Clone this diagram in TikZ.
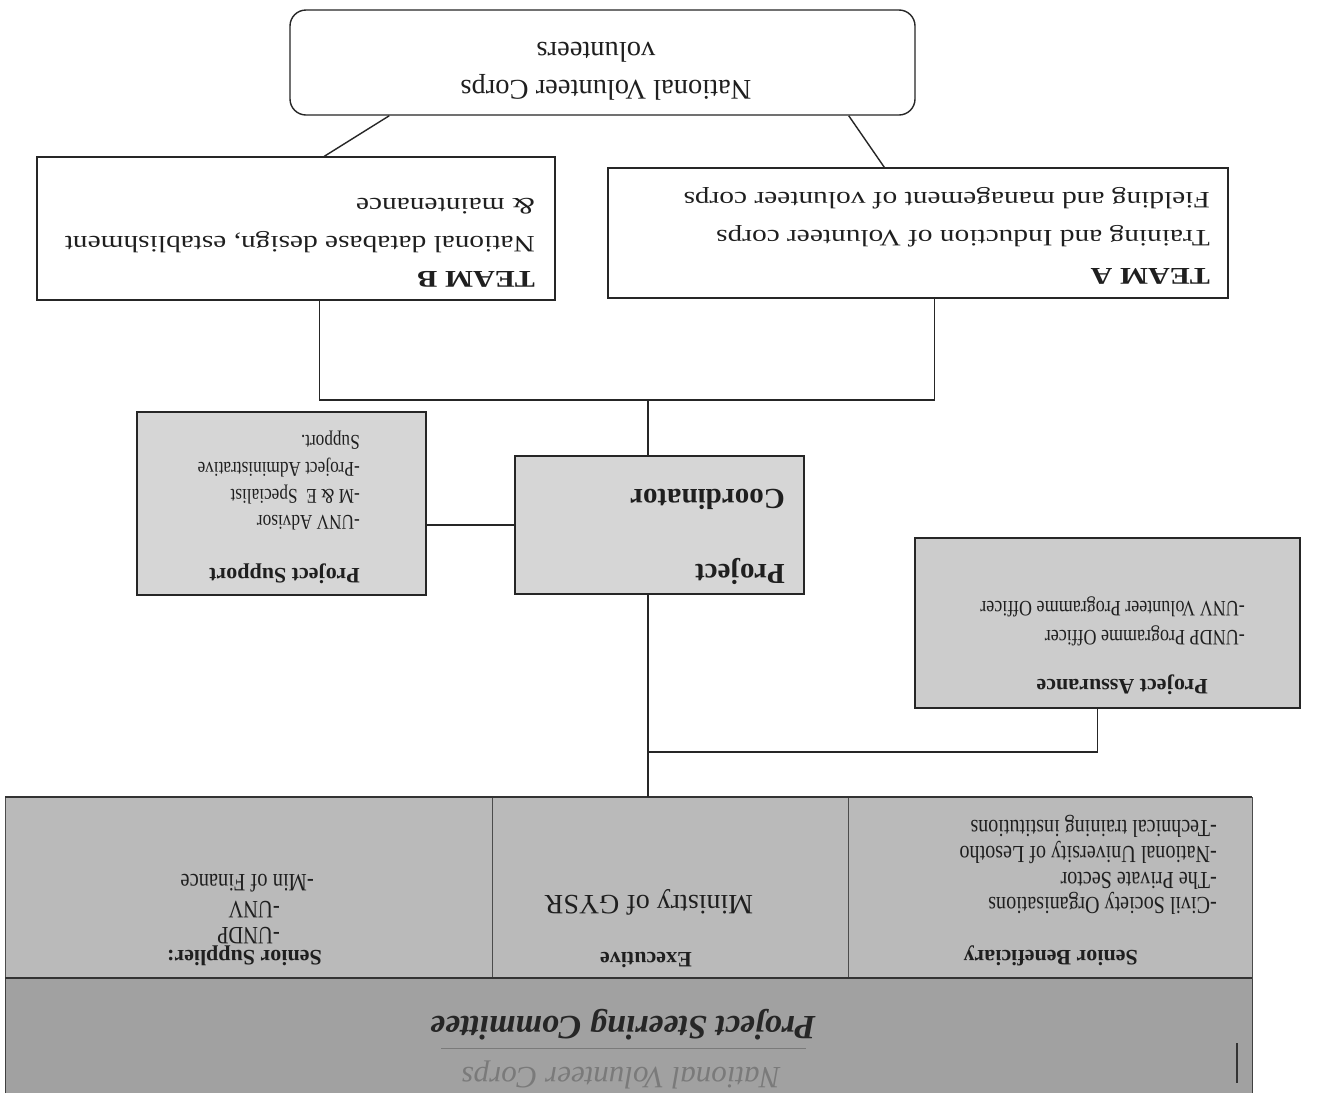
\documentclass[tikz,border=0pt]{standalone}
\usepackage{fontspec}
\setmainfont{Liberation Serif}
\newfontfamily\wideserif{Liberation Serif}[FakeStretch=1.25]
\newfontfamily\condserif{Liberation Serif}[FakeStretch=0.82]
\newcommand{\fsz}[1]{\fontsize{#1}{#1}\selectfont}
\begin{document}
\begin{tikzpicture}[x=1pt,y=-1pt,
  box/.style={draw=black!85, line width=1.4pt, inner sep=0pt},
  gbox/.style={box, fill=black!16},
  cellbox/.style={draw=black!70, line width=1pt, inner sep=0pt, fill=black!27},
  txt/.style={rotate=180, inner sep=0pt, text=black!88},
  rtxt/.style={txt, anchor=mid west},
  ctxt/.style={txt, anchor=mid},
  conn/.style={draw=black!85, line width=1.4pt}]
\useasboundingbox (0,0) rectangle (1330,1093);
\fill[white] (0,0) rectangle (1330,1093);

% ---------- boxes ----------
\node[box, rounded corners=16pt, minimum width=625pt, minimum height=105pt] (top) at (602.5,62.5) {};
\node[box, minimum width=518pt, minimum height=143pt] (teamB) at (296,228.5) {};
\node[box, minimum width=620pt, minimum height=130pt] (teamA) at (918,233) {};
\node[gbox, minimum width=289pt, minimum height=138pt] (coord) at (659.5,525) {};
\node[gbox, minimum width=289pt, minimum height=183pt] (support) at (281.5,503.5) {};
\node[gbox, fill=black!20, minimum width=385pt, minimum height=170pt] (assur) at (1107.5,623) {};

% committee
\fill[black!37] (5,978) rectangle (1252,1093);
\draw[black!75, line width=1pt] (5,1093) -- (5,978) -- (1252,978) -- (1252,1093);
\node[cellbox, minimum width=487pt, minimum height=181pt] (cellL) at (248.5,887.5) {};
\node[cellbox, minimum width=356pt, minimum height=181pt] (cellM) at (670,887.5) {};
\node[cellbox, minimum width=404pt, minimum height=181pt] (cellR) at (1050,887.5) {};
\draw[black!80, line width=2pt] (5,978) -- (1252,978);
\draw[black!80, line width=1.6pt] (5,797) -- (1252,797);

% ---------- connectors ----------
\coordinate (j1) at (648,400);
\coordinate (j2) at (648,752);
\draw[conn] ([xshift=100pt]top.south west) -- ([xshift=288pt]teamB.north west);
\draw[conn] ([xshift=-67pt]top.south east) -- ([xshift=277pt]teamA.north west);
\draw[conn] ([xshift=283pt]teamB.south west) |- (j1) -| ([xshift=327pt]teamA.south west);
\draw[conn] (j1) -- (j1 |- coord.north);
\draw[conn] (coord.west) -- (coord.west -| support.east);
\draw[conn] (j1 |- coord.south) -- (j1 |- cellM.north);
\draw[conn] (j2) -| ([xshift=-10pt]assur.south);

% ---------- texts ----------
\node[ctxt, font=\fsz{28.5}] (t1) at (606,83) {National Volunteer Corps};
\node[ctxt, font=\fsz{28.5}] (t2) at (596,45) {volunteers};

\node[rtxt, font=\wideserif\bfseries\fsz{24}] (tb1) at (535,274) {TEAM B};
\node[rtxt, font=\wideserif\fsz{23.5}] (tb2) at (535,239) {National database design, establishment};
\node[rtxt, font=\wideserif\fsz{23.5}] (tb3) at (535,201) {\& maintenance};

\node[rtxt, font=\wideserif\bfseries\fsz{24}] (ta1) at (1210,271) {TEAM A};
\node[rtxt, font=\wideserif\fsz{23.5}] (ta2) at (1210,233) {Training and Induction of Volunteer corps};
\node[rtxt, font=\wideserif\fsz{23.5}] (ta3) at (1210,195) {Fielding and management of volunteer corps};

\node[rtxt, font=\bfseries\fsz{29}] (pc1) at (785,567) {Project};
\node[rtxt, font=\bfseries\fsz{29}] (pc2) at (785,492) {Coordinator};

\node[rtxt, font=\bfseries\fsz{22}] (ps1) at (360,571) {Project Support};
\node[rtxt, font=\condserif\fsz{21}] (ps2) at (360,518) {-UNV Advisor};
\node[rtxt, font=\condserif\fsz{21}] (ps3) at (360,492) {-M \& E~~Specialist};
\node[rtxt, font=\condserif\fsz{21}] (ps4) at (360,465) {-Project Administrative};
\node[rtxt, font=\condserif\fsz{21}] (ps5) at (360,438) {Support.};

\node[rtxt, font=\bfseries\fsz{22}] (pa1) at (1208,682) {Project Assurance};
\node[rtxt, font=\condserif\fsz{22}] (pa2) at (1245,633) {-UNDP Programme Officer};
\node[rtxt, font=\condserif\fsz{22}] (pa3) at (1245,604) {-UNV Volunteer Programme Officer};

\node[rtxt, font=\bfseries\fsz{22}] (sl1) at (322,953) {Senior Supplier:};
\node[rtxt, font=\condserif\fsz{25}] (sl2) at (280,930) {-UNDP};
\node[rtxt, font=\condserif\fsz{25}] (sl3) at (280,904) {-UNV};
\node[rtxt, font=\condserif\fsz{25}] (sl4) at (314,877) {-Min of Finance};

\node[ctxt, font=\bfseries\fsz{22}] (ex1) at (646,955) {Executive};
\node[ctxt, font=\fsz{28}] (ex2) at (649,898) {Ministry of GYSR};

\node[rtxt, font=\bfseries\fsz{22}] (sb1) at (1138,953) {Senior Beneficiary};
\node[rtxt, font=\condserif\fsz{24.5}] (sb2) at (1217,900) {-Civil Society Organisations};
\node[rtxt, font=\condserif\fsz{24.5}] (sb3) at (1217,875) {-The Private Sector};
\node[rtxt, font=\condserif\fsz{24.5}] (sb4) at (1217,849) {-National University of Lesotho};
\node[rtxt, font=\condserif\fsz{24.5}] (sb5) at (1217,823) {-Technical training institutions};

\node[ctxt, font=\bfseries\itshape\fsz{34}, text=black!85] (psc) at (623,1019) {Project Steering Committee};
\begin{scope}
\clip (5,1049) rectangle (1252,1093);
\node[ctxt, font=\itshape\fsz{31}, text=black!52] (nvc) at (621,1070) {National Volunteer Corps};
\end{scope}
\draw[black!52, line width=1pt] (441,1048) -- (806,1048);
\draw[black!80, line width=1.2pt] (1237,1043) -- (1237,1083);
\end{tikzpicture}
\end{document}
